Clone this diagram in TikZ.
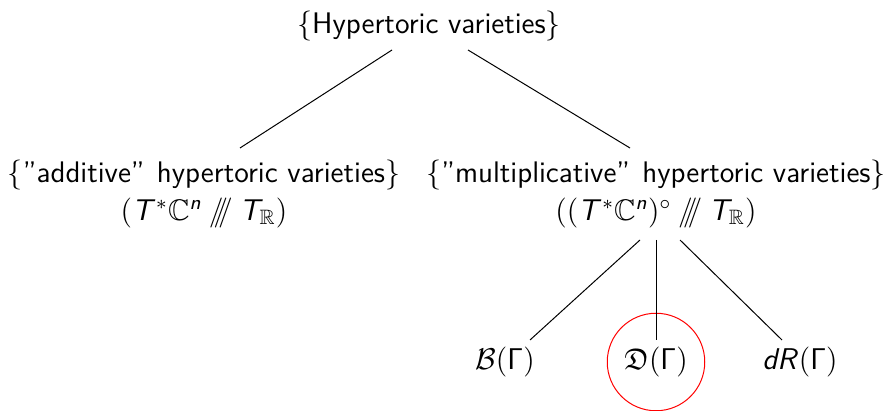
\documentclass[tikz,border=0pt]{standalone}
\usepackage{amssymb}
\usetikzlibrary{calc}
\DeclareMathAlphabet{\mathsfit}{OT1}{cmss}{m}{sl}
\newcommand{\hkq}{\mathbin{/\!\!/\!\!/}}
\newcommand{\sT}{\mathsfit{T}}
\newcommand{\sG}{\mathsf{\Gamma}}
\begin{document}
\begin{tikzpicture}[x=0.4pt,y=-0.4pt,
  lbl/.style={font=\fontsize{11.9}{15}\sffamily, align=center, inner sep=0pt},
  conn/.style={line width=0.4pt, draw=black}]
\useasboundingbox (0,0) rectangle (886,411);
\node[lbl] (top) at (429,26) {$\{$Hypertoric varieties$\}$};
\node[lbl] (add) at (204,194) {$\{$''additive''\ \kern1pt hypertoric varieties$\}$\\ $(\sT^*\mathbb{C}^{\mathsfit{n}} \hkq \sT_{\mathbb{R}})$};
\node[lbl] (mul) at (656,194) {$\{$''multiplicative''\ \kern1pt hypertoric varieties$\}$\\ $((\sT^*\mathbb{C}^{\mathsfit{n}})^\circ \hkq \sT_{\mathbb{R}})$};
\node[lbl] (b) at (505,362) {$\mathcal{B}(\sG)$};
\node[lbl] (d) at (656,362) {$\mathfrak{D}(\sG)$};
\node[lbl] (r) at (800,362) {$\mathsfit{dR}(\sG)$};
\node[draw=red, circle, line width=0.4pt, inner sep=0pt, minimum size=39pt] (circ) at (d) {};
\draw[conn] ($(top.center)+(-37,24)$) -- ($(add.center)+(36,-46)$);
\draw[conn] ($(top.center)+(39,24)$) -- ($(mul.center)+(-26,-46)$);
\draw[conn] ($(mul.center)+(-16,46)$) -- ($(b.center)+(25,-22)$);
\draw[conn] ($(mul.center)+(0,46)$) -- ($(d.center)+(0,-22)$);
\draw[conn] ($(mul.center)+(24,46)$) -- ($(r.center)+(-18,-22)$);
\end{tikzpicture}
\end{document}
